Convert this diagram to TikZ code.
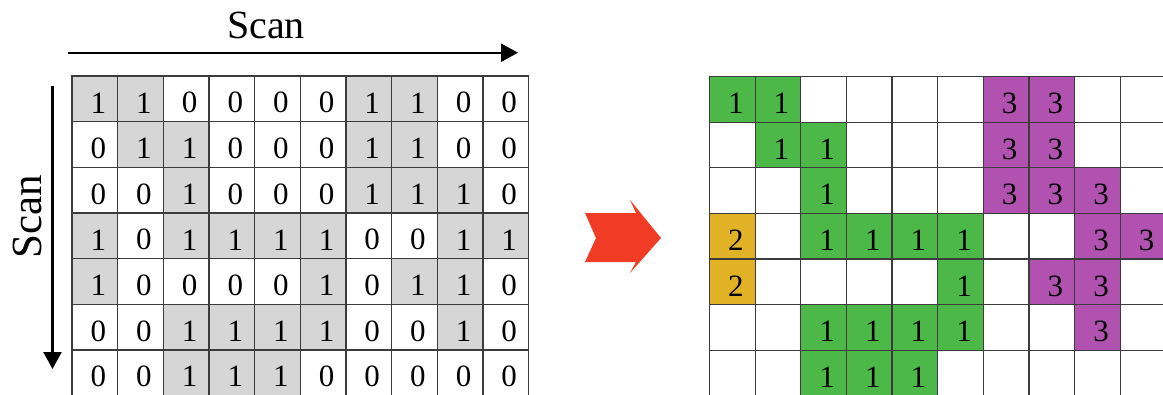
\documentclass[tikz,border=0pt]{standalone}
\usepackage{fontspec}
\setmainfont{Liberation Serif}
\usetikzlibrary{arrows.meta}
\definecolor{lg0}{RGB}{255,255,255}
\definecolor{lg1}{RGB}{214,214,214}
\definecolor{rc0}{RGB}{255,255,255}
\definecolor{rc1}{RGB}{76,184,72}
\definecolor{rc2}{RGB}{226,178,38}
\definecolor{rc3}{RGB}{178,82,176}
\definecolor{redarrow}{RGB}{240,60,36}
\definecolor{gridline}{RGB}{60,60,60}
\begin{document}
\begin{tikzpicture}[x=1pt,y=-1pt,
  cellbox/.style={draw=gridline, line width=1.3pt, minimum width=45.65pt, minimum height=45.65pt, inner sep=0pt, outer sep=0pt},
  digit/.style={font=\fontsize{31}{31}\selectfont, inner sep=0pt},
  scanarrow/.style={line width=2.3pt, -{Triangle[length=17pt,width=18pt]}},
  scanlabel/.style={font=\fontsize{40}{40}\selectfont, inner sep=0pt}]
\useasboundingbox (0,0) rectangle (1163,394);
\clip (0,0) rectangle (1163,394);

% labels and scan arrows
\node[scanlabel, anchor=base] (scantop) at (266,38.3) {Scan};
\node[scanlabel, anchor=base, rotate=90, font=\fontsize{43}{43}\selectfont] (scanleft) at (41.7,217) {Scan};
\coordinate (hs) at (68,52.7);
\coordinate (he) at (518,52.7);
\draw[scanarrow] (hs) -- (he);
\coordinate (vs) at (52.5,86);
\coordinate (ve) at (52.5,369);
\draw[scanarrow] (vs) -- (ve);

% left binary grid
\foreach \row [count=\r] in {
  {1,1,0,0,0,0,1,1,0,0},
  {0,1,1,0,0,0,1,1,0,0},
  {0,0,1,0,0,0,1,1,1,0},
  {1,0,1,1,1,1,0,0,1,1},
  {1,0,0,0,0,1,0,1,1,0},
  {0,0,1,1,1,1,0,0,1,0},
  {0,0,1,1,1,0,0,0,0,0}} {
  \foreach \v [count=\c] in \row {
    \node[cellbox, fill=lg\v] (L-\r-\c) at ({72+45.65*(\c-0.5)},{76+45.65*(\r-0.5)}) {};
    \node[digit] (Ld-\r-\c) at ([shift={(3.5,4)}]L-\r-\c.center) {\v};
  }
}

% red arrow
\fill[redarrow] (585,213) -- (636,213) -- (630,200) -- (661,238) -- (630,273) -- (636,262) -- (585,262) -- (596,238) -- cycle;

% right labelled grid
\foreach \row [count=\r] in {
  {1,1,0,0,0,0,3,3,0,0},
  {0,1,1,0,0,0,3,3,0,0},
  {0,0,1,0,0,0,3,3,3,0},
  {2,0,1,1,1,1,0,0,3,3},
  {2,0,0,0,0,1,0,3,3,0},
  {0,0,1,1,1,1,0,0,3,0},
  {0,0,1,1,1,0,0,0,0,0}} {
  \foreach \v [count=\c] in \row {
    \node[cellbox, fill=rc\v] (R-\r-\c) at ({709.5+45.65*(\c-0.5)},{76.5+45.65*(\r-0.5)}) {};
    \ifnum\v>0
      \node[digit] (Rd-\r-\c) at ([shift={(3.5,4)}]R-\r-\c.center) {\v};
    \fi
  }
}
\end{tikzpicture}
\end{document}
